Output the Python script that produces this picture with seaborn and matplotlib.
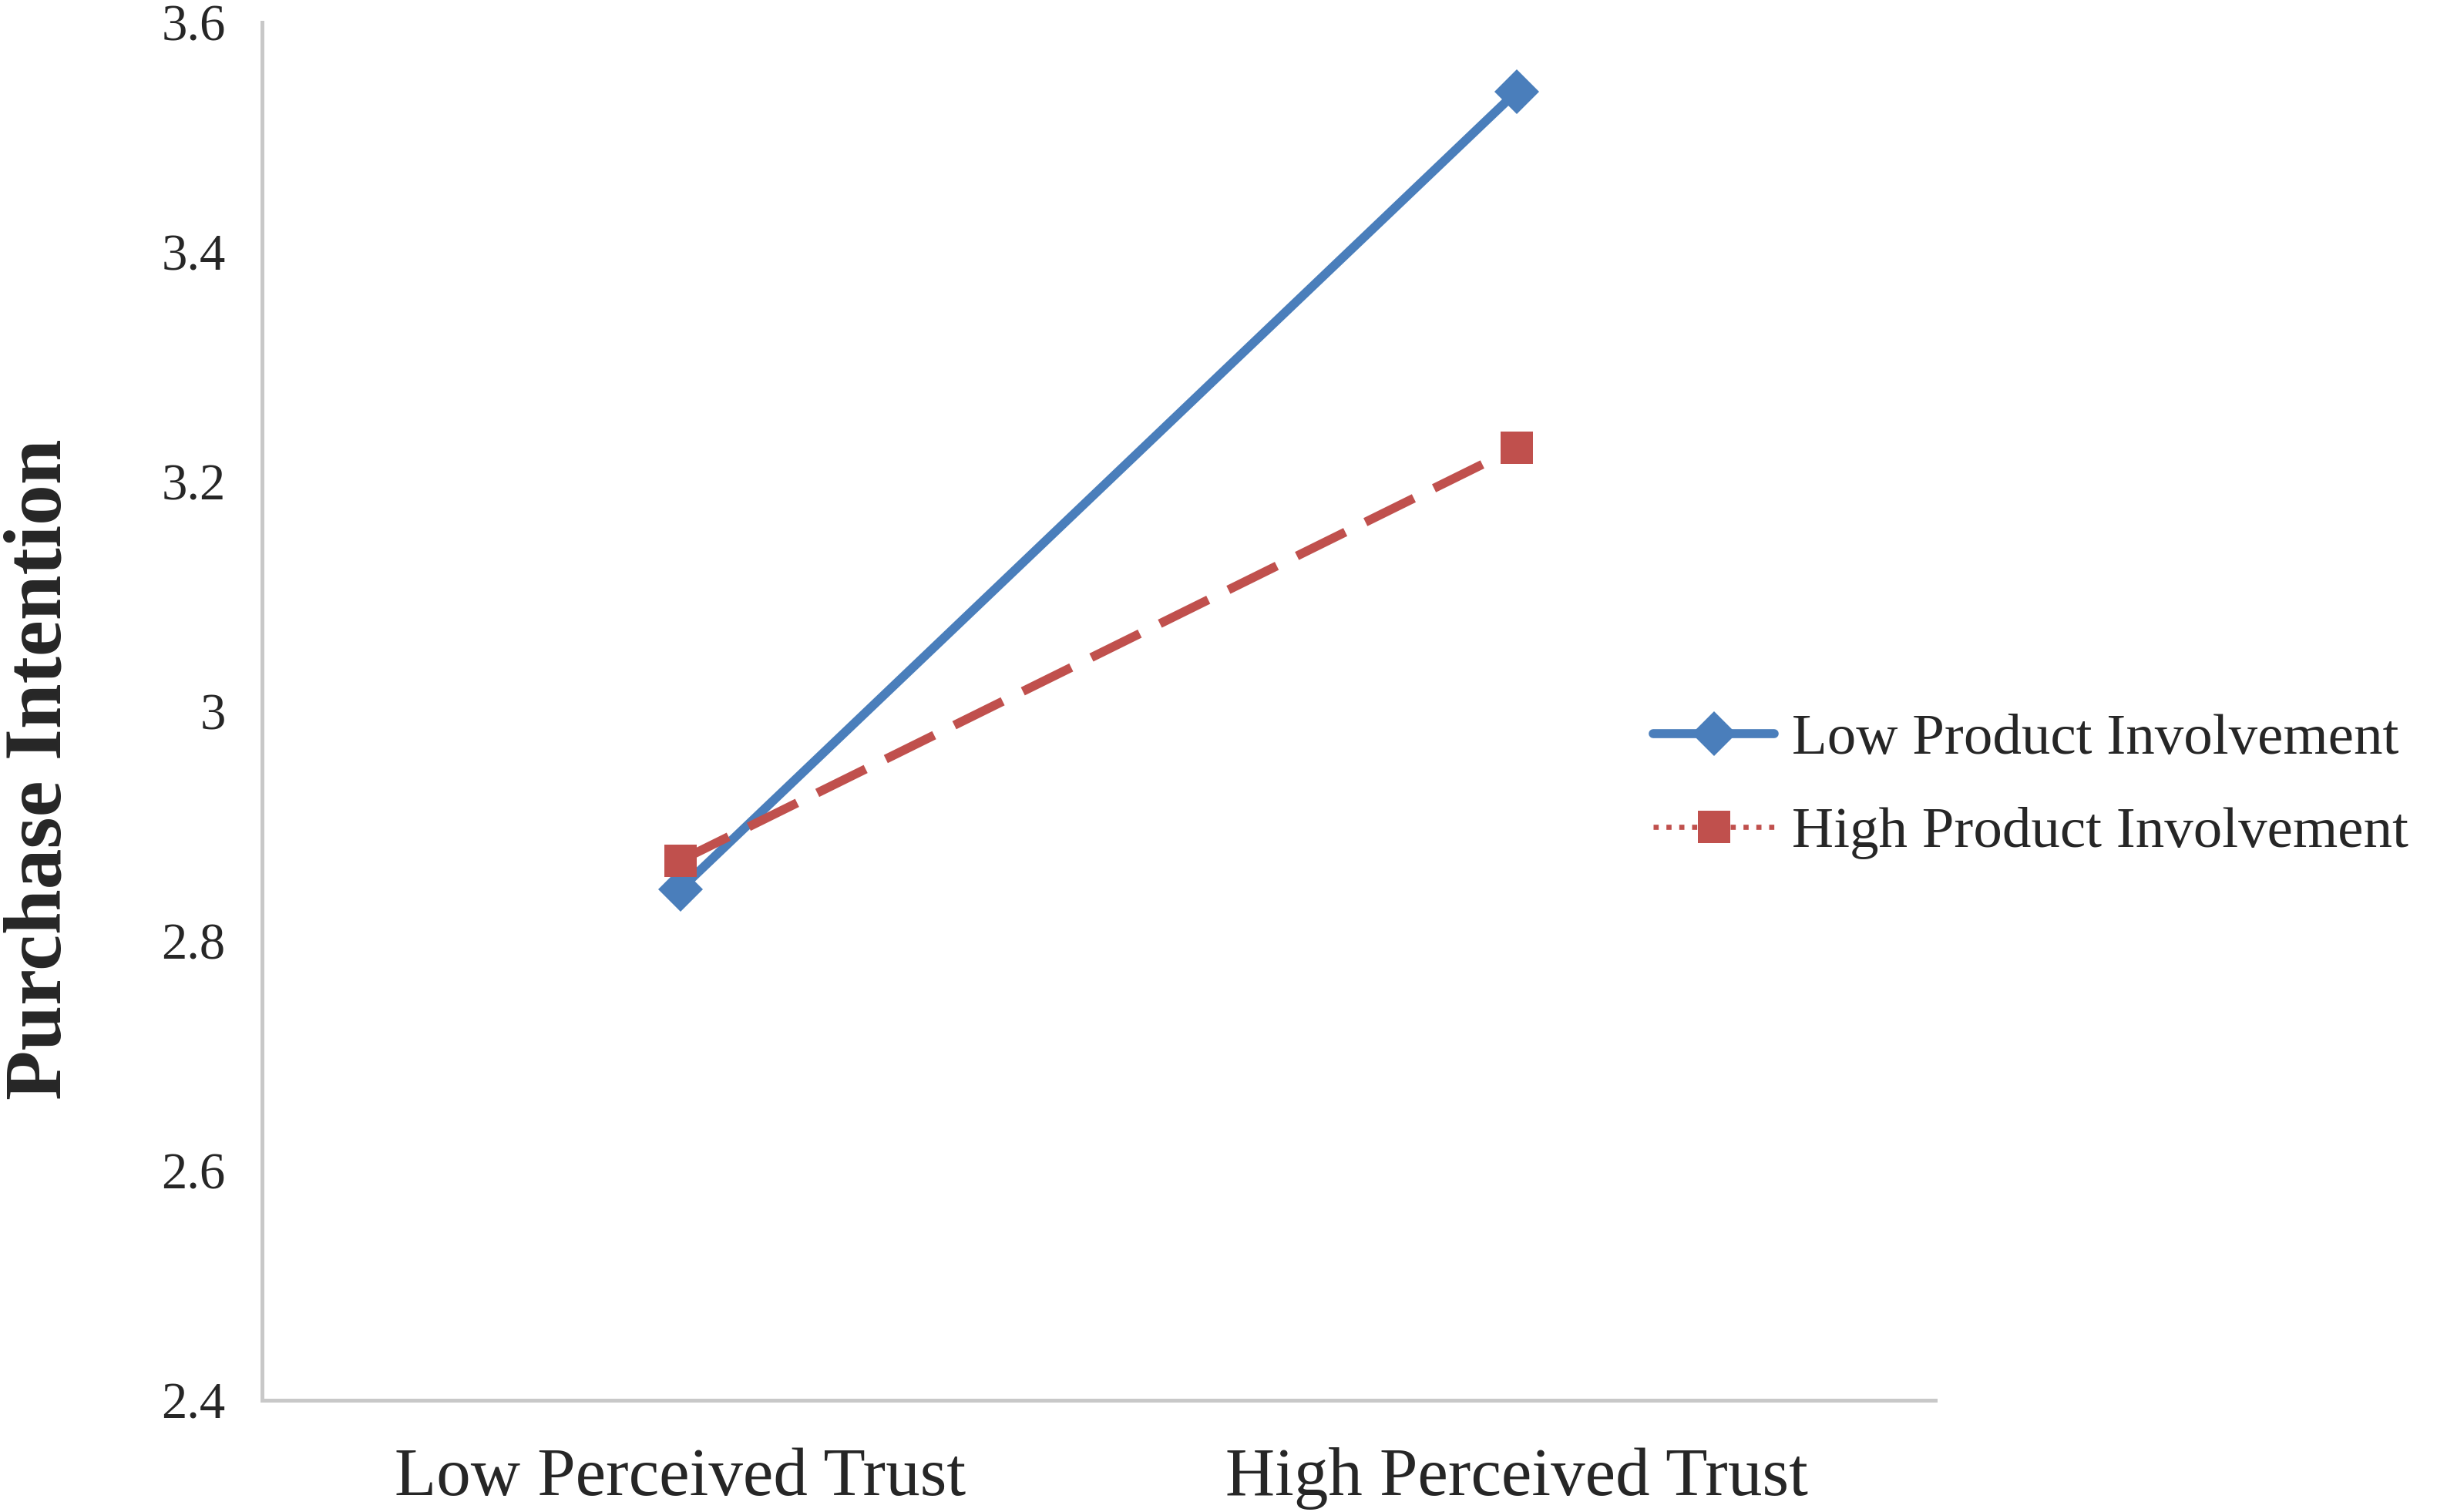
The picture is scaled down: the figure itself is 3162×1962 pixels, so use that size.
import pandas as pd
import matplotlib
matplotlib.use("Agg")
import matplotlib.pyplot as plt
import seaborn as sns
from matplotlib.lines import Line2D

# values
trust_levels = ["Low Perceived Trust", "High Perceived Trust"]
low_involvement = [2.845, 3.54]
high_involvement = [2.87, 3.23]
series_names = ["Low Product Involvement", "High Product Involvement"]
y_ticks = [2.4, 2.6, 2.8, 3.0, 3.2, 3.4, 3.6]
y_tick_labels = ["2.4", "2.6", "2.8", "3", "3.2", "3.4", "3.6"]

df = pd.DataFrame({
    "trust": list(range(len(trust_levels))) * 2,
    "intention": low_involvement + high_involvement,
    "group": [series_names[0]] * 2 + [series_names[1]] * 2,
})

sns.set_theme(style="white")
plt.rcParams["font.family"] = ["Liberation Serif", "DejaVu Serif"]

blue = "#4A7EBB"
red = "#C0504D"
palette = {series_names[0]: blue, series_names[1]: red}

fig = plt.figure(figsize=(15.81, 9.81), dpi=200)
ax = fig.add_axes([0.1075, 0.074, 0.6865, 0.911])

sns.lineplot(data=df, x="trust", y="intention", hue="group", style="group",
             palette=palette, markers={series_names[0]: "D", series_names[1]: "s"},
             dashes={series_names[0]: "", series_names[1]: (6, 2.5)},
             linewidth=4.2, markersize=15, markeredgewidth=0,
             legend=False, ax=ax)

ax.set_xlim(-0.5, 1.5)
ax.set_ylim(2.4, 3.6)
ax.set_xticks(range(len(trust_levels)))
ax.set_xticklabels(trust_levels, fontsize=32)
ax.set_yticks(y_ticks)
ax.set_yticklabels(y_tick_labels, fontsize=24)
ax.tick_params(axis="x", length=0, pad=22)
ax.tick_params(axis="y", length=0, pad=17)
ax.set_xlabel("")
ax.set_ylabel("Purchase Intention", fontsize=38, fontweight="bold")
ax.yaxis.set_label_coords(-0.11, 0.458)

for side in ["top", "right"]:
    ax.spines[side].set_visible(False)
for side in ["left", "bottom"]:
    ax.spines[side].set_color("#C8C8C8")
    ax.spines[side].set_linewidth(1.8)

handles = [
    Line2D([], [], color=blue, lw=4.2, marker="D", markersize=15, markeredgewidth=0),
    Line2D([], [], color=red, lw=2.4, ls=(0, (1, 1.5)), marker="s", markersize=15,
           markeredgewidth=0),
]
fig.legend(handles, series_names, loc="center left", bbox_to_anchor=(0.657, 0.48),
           frameon=False, fontsize=27, handlelength=2.1, handletextpad=0.3,
           labelspacing=0.7)

fig.savefig("out.png", dpi=200)
